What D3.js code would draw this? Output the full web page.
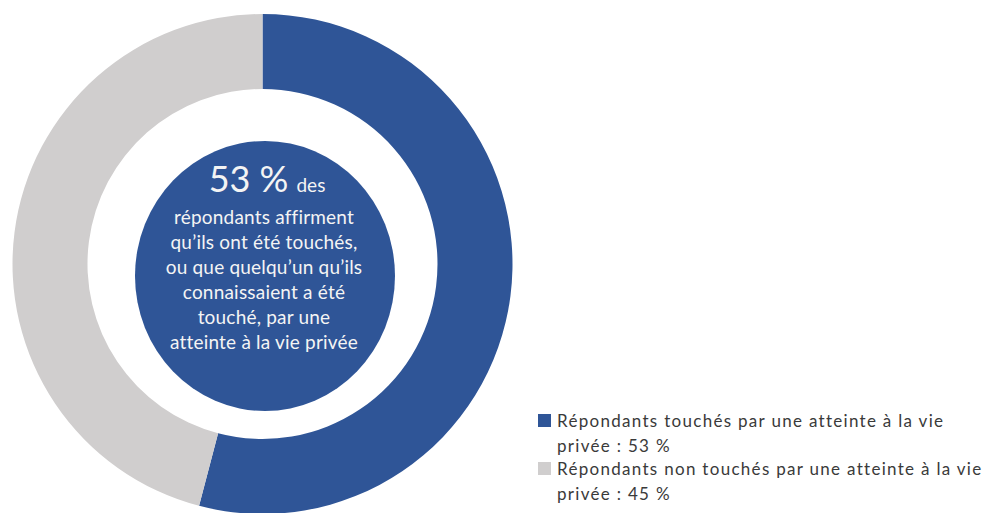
<!DOCTYPE html>
<html>
<head>
<meta charset="utf-8">
<script src="https://cdn.jsdelivr.net/npm/d3@7"></script>
<style>
  html, body { margin: 0; padding: 0; background: #ffffff; }
  svg { display: block; }
  text { font-family: Lato, "Open Sans", sans-serif; }
</style>
</head>
<body>
<svg id="chart" width="985" height="513"></svg>
<script>
// Share of respondents (percent)
const categories = [
  "Répondants touchés par une atteinte à la vie privée",
  "Répondants non touchés par une atteinte à la vie privée"
];
const values = [53, 45];
const colors = ["#2F5597", "#D0CECE"];
const legendLines = [
  ["Répondants touchés par une atteinte à la vie", "privée : 53 %"],
  ["Répondants non touchés par une atteinte à la vie", "privée : 45 %"]
];
const centerLines = [
  "répondants affirment",
  "qu’ils ont été touchés,",
  "ou que quelqu’un qu’ils",
  "connaissaient a été",
  "touché, par une",
  "atteinte à la vie privée"
];

const svg = d3.select("#chart");

// Donut ring
const cx = 262.5, cy = 264, outerR = 250, innerR = 175;
const pie = d3.pie().sort(null).value(d => d)(values);
const arc = d3.arc().innerRadius(innerR).outerRadius(outerR);

const ring = svg.append("g").attr("transform", `translate(${cx},${cy})`);
ring.selectAll("path")
  .data(pie)
  .join("path")
  .attr("d", arc)
  .attr("fill", (d, i) => colors[i]);

// Blue disc in the middle with the headline statement
const disc = svg.append("g").attr("transform", "translate(265,276)");
disc.append("ellipse")
  .attr("rx", 130).attr("ry", 135)
  .attr("fill", colors[0]);

const headline = svg.append("text")
  .attr("x", 267).attr("y", 192)
  .attr("text-anchor", "middle")
  .attr("fill", "#F4F4F4");
headline.append("tspan").attr("font-size", 36).text(`${values[0]} %`);
headline.append("tspan").attr("font-size", 19).attr("dx", 8).text("des");

svg.append("g").selectAll("text")
  .data(centerLines)
  .join("text")
  .attr("x", 264)
  .attr("y", (d, i) => 224 + i * 25)
  .attr("text-anchor", "middle")
  .attr("font-size", 19)
  .attr("letter-spacing", 0.2)
  .attr("fill", "#F4F4F4")
  .text(d => d);

// Legend
const legend = svg.append("g");
const item = legend.selectAll("g")
  .data(categories)
  .join("g")
  .attr("transform", (d, i) => `translate(538,${427 + i * 48})`);
item.append("rect")
  .attr("x", 0).attr("y", -13)
  .attr("width", 13).attr("height", 13)
  .attr("fill", (d, i) => colors[i]);
item.each(function(d, i) {
  const t = d3.select(this).append("text")
    .attr("font-size", 17)
    .attr("letter-spacing", 1.3)
    .attr("fill", "#3A3A3A");
  legendLines[i].forEach((line, j) => {
    t.append("tspan").attr("x", 19).attr("y", j * 25).text(line);
  });
});
</script>
</body>
</html>
